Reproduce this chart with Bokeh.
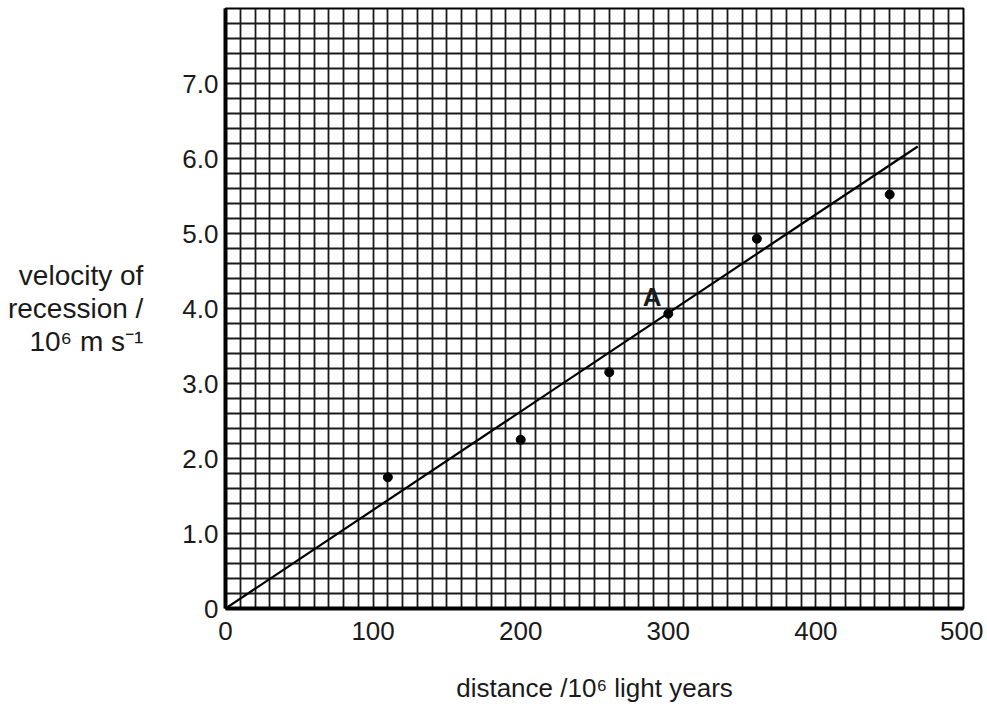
from bokeh.plotting import figure
from bokeh.models import FixedTicker, Label, Range1d
from bokeh.embed import file_html
from bokeh.resources import INLINE

# ---- data ----
distance = [110, 200, 260, 300, 360, 450]          # 10^6 light years
velocity = [1.75, 2.25, 3.15, 3.93, 4.93, 5.52]    # 10^6 m s^-1
fit_distance = [0, 469]
fit_velocity = [0, 6.16]

x_ticks = [0, 100, 200, 300, 400, 500]
x_tick_labels = ["0", "100", "200", "300", "400", "500"]
y_ticks = [0, 1, 2, 3, 4, 5, 6, 7]
y_tick_labels = ["0", "1.0", "2.0", "3.0", "4.0", "5.0", "6.0", "7.0"]

x_minor_step = 10
y_minor_step = 0.2
x_max = 500
y_max = 8

point_label = "A"
point_label_x = 289
point_label_y = 4.15

x_title = "distance /10\u2076 light years"
y_title = "velocity of\nrecession /\n10\u2076 m s\u207b\u00b9"

FONT = "Liberation Sans"

p = figure(width=983, height=708,
           x_range=Range1d(0, x_max), y_range=Range1d(0, y_max),
           output_backend="svg", toolbar_location=None,
           min_border_left=225, min_border_right=20,
           min_border_top=8, min_border_bottom=100)

p.background_fill_color = "white"
p.border_fill_color = "white"
p.outline_line_color = "black"
p.outline_line_width = 2

# graph-paper grid
p.xgrid.ticker = FixedTicker(ticks=[i * x_minor_step for i in range(int(x_max / x_minor_step) + 1)])
p.ygrid.ticker = FixedTicker(ticks=[round(i * y_minor_step, 1) for i in range(int(round(y_max / y_minor_step)) + 1)])
for g in (p.xgrid, p.ygrid):
    g.grid_line_color = "#1a1a1a"
    g.grid_line_width = 1.8
    g.grid_line_alpha = 1.0

# axes
p.xaxis.ticker = FixedTicker(ticks=x_ticks)
p.xaxis.major_label_overrides = {t: l for t, l in zip(x_ticks, x_tick_labels)}
p.yaxis.ticker = FixedTicker(ticks=y_ticks)
p.yaxis.major_label_overrides = {t: l for t, l in zip(y_ticks, y_tick_labels)}

for ax in (p.xaxis, p.yaxis):
    ax.axis_line_color = "black"
    ax.axis_line_width = 4
    ax.major_tick_line_color = None
    ax.minor_tick_line_color = None
    ax.major_tick_out = 0
    ax.major_tick_in = 0
    ax.major_label_text_font = FONT
    ax.major_label_text_font_size = "26px"
    ax.major_label_text_color = "#1a1a1a"
    ax.axis_label_text_font = FONT
    ax.axis_label_text_font_style = "normal"
    ax.axis_label_text_color = "#1a1a1a"

p.xaxis.major_label_standoff = 13
p.yaxis.major_label_standoff = 7

p.xaxis.axis_label = x_title
p.xaxis.axis_label_text_font_size = "26px"
p.xaxis.axis_label_standoff = 30

p.yaxis.axis_label = y_title
p.yaxis.axis_label_orientation = "horizontal"
p.yaxis.axis_label_text_align = "center"
p.yaxis.axis_label_text_font_size = "28px"
p.yaxis.axis_label_standoff = 36
p.yaxis.axis_label_text_line_height = 1.05

# data
p.line(fit_distance, fit_velocity, line_width=2.2, line_color="black")
p.scatter(distance, velocity, size=9, color="black")

p.add_layout(Label(x=point_label_x, y=point_label_y, text=point_label,
                   text_font=FONT, text_font_size="26px", text_font_style="bold",
                   text_align="center", text_baseline="middle", text_color="#1a1a1a"))

open("out.html", "w").write(file_html(p, INLINE))
